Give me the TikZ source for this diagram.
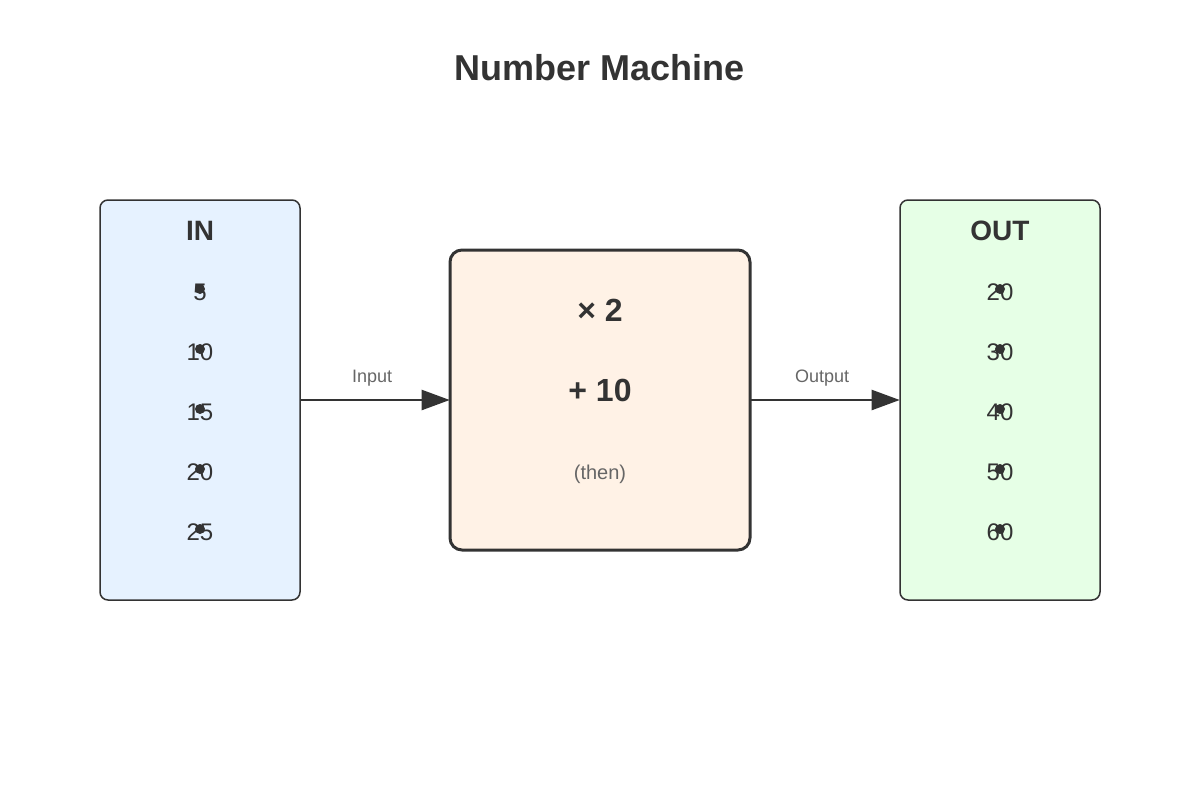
\documentclass[tikz,border=0pt]{standalone}
\usepackage{fontspec}
\setmainfont{Liberation Sans}
\usetikzlibrary{arrows.meta}
\definecolor{ink}{HTML}{333333}
\definecolor{grey}{HTML}{666666}
\definecolor{infill}{HTML}{E6F2FF}
\definecolor{midfill}{HTML}{FFF2E6}
\definecolor{outfill}{HTML}{E6FFE6}
\begin{document}
\begin{tikzpicture}[x=0.75pt,y=-0.75pt,
  box/.style={draw=ink,line width=1.5pt*0.75,rounded corners=6pt},
  num/.style={font=\fontsize{18}{20}\selectfont,text=ink},
  dot/.style={circle,fill=ink,inner sep=0pt,minimum size=7.5pt},
  conn/.style={draw=ink,line width=2.25pt*0.75,-{Triangle[length=21pt,width=15pt]}},
  lab/.style={font=\fontsize{13.5}{15}\selectfont,text=grey}]
\useasboundingbox (0,0) rectangle (1200,800);
\node[font=\bfseries\fontsize{27}{30}\selectfont,text=ink] (title) at (600,68) {Number Machine};
\path[box,fill=infill] (100,200) rectangle (300,600);
\node[inner sep=0pt,minimum width=150pt,minimum height=300pt] (in) at (200,400) {};
\path[box,fill=outfill] (900,200) rectangle (1100,600);
\node[inner sep=0pt,minimum width=150pt,minimum height=300pt] (out) at (1000,400) {};
\path[draw=ink,line width=2.25pt,rounded corners=9pt,fill=midfill] (450,250) rectangle (750,550);
\node[inner sep=0pt,minimum width=225pt,minimum height=225pt] (mid) at (600,400) {};
\node[font=\bfseries\fontsize{21}{24}\selectfont,text=ink] (inl) at (200,231) {IN};
\node[font=\bfseries\fontsize{21}{24}\selectfont,text=ink] (outl) at (1000,231) {OUT};
\foreach \v/\w [count=\i] in {5/20,10/30,15/40,20/50,25/60}{
  \node[num] (i\i) at (200,232+60*\i) {\v};
  \node[dot] (di\i) at (200,229+60*\i) {};
  \node[num] (o\i) at (1000,232+60*\i) {\w};
  \node[dot] (do\i) at (1000,229+60*\i) {};
}
\node[font=\bfseries\fontsize{24}{26}\selectfont,text=ink] (m1) at (600,310) {× 2};
\node[font=\bfseries\fontsize{24}{26}\selectfont,text=ink] (m2) at (600,390) {+ 10};
\node[font=\fontsize{15}{17}\selectfont,text=grey] (m3) at (600,474) {(then)};
\coordinate (a1) at (300,400);
\coordinate (a2) at (750,400);
\draw[conn] (a1) -- (mid.west) node[lab,midway,above=6pt,xshift=-2pt] {Input};
\draw[conn] (a2) -- (out.west) node[lab,midway,above=6pt,xshift=-2pt] {Output};
\end{tikzpicture}
\end{document}
